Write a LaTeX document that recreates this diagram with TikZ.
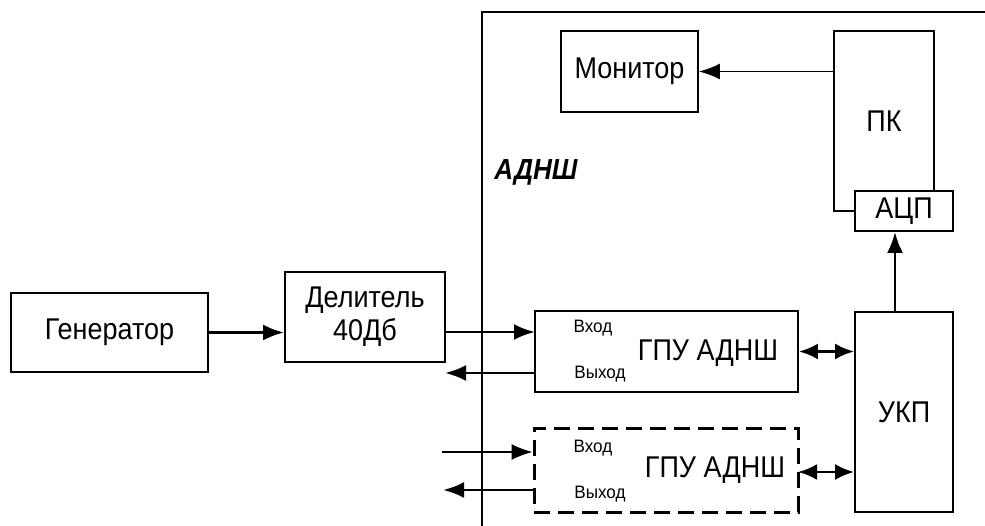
\documentclass[tikz,border=0pt]{standalone}
\usepackage{fontspec}
\setmainfont{Liberation Sans}[FakeStretch=0.9]
\usetikzlibrary{arrows.meta,calc}
\begin{document}
\begin{tikzpicture}[x=1pt,y=-1pt,
  blk/.style={draw,line width=1.8pt,fill=white,inner sep=0pt,font=\fontsize{30}{33}\selectfont,align=center},
  dblk/.style={draw,line width=3pt,dash pattern=on 16pt off 8pt,inner sep=0pt},
  sm/.style={font=\fontsize{18}{20}\selectfont\addfontfeature{FakeStretch=0.95}},
  big/.style={font=\fontsize{30}{33}\selectfont},
  arr/.style={line width=2.8pt,-{Latex[length=21pt,width=16pt]}},
  tarr/.style={line width=1.6pt,-{Latex[length=21pt,width=16pt]}},
  darr/.style={line width=2.8pt,{Latex[length=19pt,width=16pt]}-{Latex[length=19pt,width=16pt]}},
  frame/.style={line width=1.6pt}]
\useasboundingbox (0,0) rectangle (985,526);
% frame of ADNSH
\coordinate (fa) at (482,526);
\coordinate (fb) at (482,12);
\coordinate (fc) at (985,12);
\draw[frame] (fa) -- (fb) -- (fc);
\node[font=\fontsize{29}{30}\selectfont\bfseries\itshape] (adnsh) at (536,172) {АДНШ};
% blocks
\node[blk,minimum width=197,minimum height=79] (gen) at (109.5,332.5) {Генератор};
\node[blk,minimum width=160,minimum height=90] (div) at (365,317) {Делитель\\40Дб};
\node[blk,minimum width=137,minimum height=81] (mon) at (629.5,71.5) {Монитор};
\node[blk,minimum width=100,minimum height=180] (pk) at (884,121) {ПК};
\node[blk,minimum width=98,minimum height=40] (adc) at (904,211) {АЦП};
\node[blk,minimum width=98,minimum height=200] (ukp) at (904,412) {УКП};
\node[blk,minimum width=263,minimum height=81] (gpu1) at (666.5,351.5) {};
\node[big] (g1t) at (708,353) {ГПУ АДНШ};
\node[sm] (g1i) at (593,328) {Вход};
\node[sm] (g1o) at (600,374) {Выход};
\node[dblk,minimum width=264,minimum height=84] (gpu2) at (666,470) {};
\node[big] (g2t) at (715,470) {ГПУ АДНШ};
\node[sm] (g2i) at (593,448) {Вход};
\node[sm] (g2o) at (600,494) {Выход};
% connectors
\draw[arr] (gen) -- (div.west |- gen);
\coordinate (in1) at (535,332);
\draw[arr] (div.east |- in1) -- (in1);
\coordinate (out1) at (445,373);
\draw[arr] (gpu1.west |- out1) -- (out1);
\coordinate (in2s) at (442,452);
\draw[tarr] (in2s) -- (gpu2.west |- in2s);
\coordinate (out2) at (443,490);
\draw[arr] (gpu2.west |- out2) -- (out2);
\draw[darr] (gpu1.east) -- (gpu1.east -| ukp.west);
\coordinate (d2) at (798,472);
\draw[darr] (d2) -- (d2 -| ukp.west);
\draw[arr] ($(ukp.north)+(-9,0)$) -- ($(adc.south)+(-9,0)$);
\draw[tarr] (pk.west |- mon.east) -- (mon.east);
\end{tikzpicture}
\end{document}
